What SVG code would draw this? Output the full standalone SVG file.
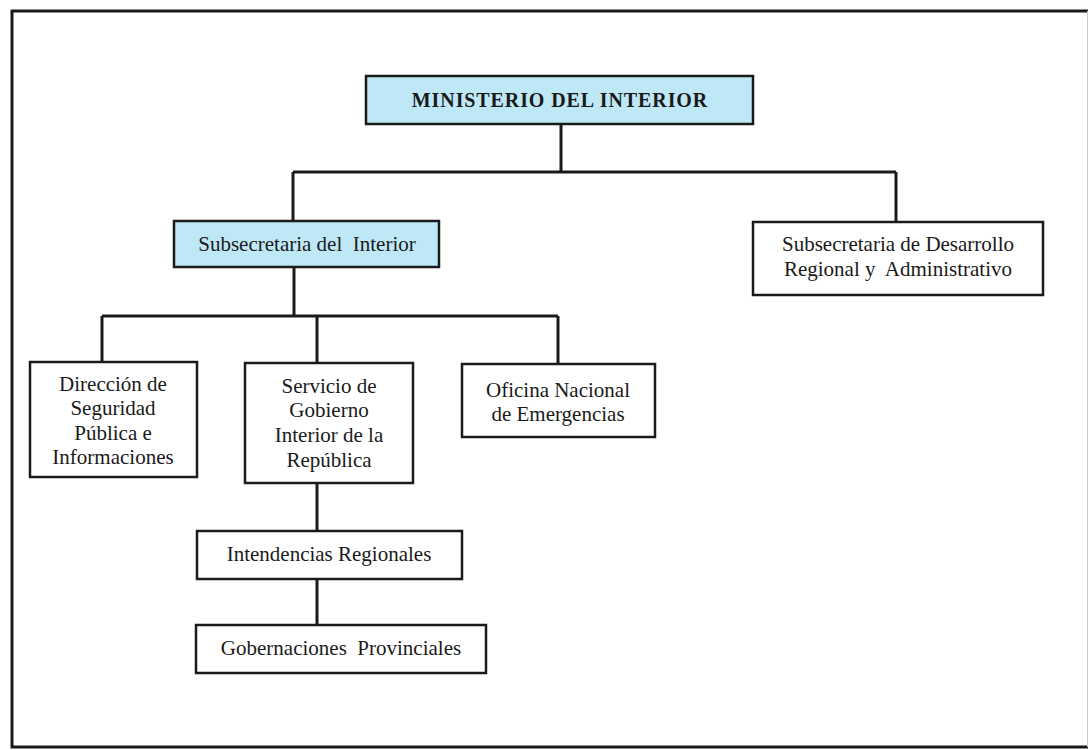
<svg xmlns="http://www.w3.org/2000/svg" width="1089" height="750" viewBox="0 0 1089 750">
<style>
.box{fill:#ffffff;stroke:#1a1a1a;stroke-width:2.5}
.blue{fill:#bfe8f6}
.t{font-family:"Liberation Serif","Times New Roman",serif;font-size:21px;fill:#1a1a1a;text-anchor:middle;white-space:pre}
.b{font-weight:bold;font-size:20px;letter-spacing:0.9px}
.c{fill:none;stroke:#1a1a1a;stroke-width:3}
</style>
<rect width="1089" height="750" fill="#ffffff"/>
<g id="frame">
<path d="M1088,11 L12,11 L12,747 L1088,747" fill="none" stroke="#1a1a1a" stroke-width="3"/>
<line x1="1087.5" y1="11" x2="1087.5" y2="747" stroke="#c8c8c8" stroke-width="1"/>
</g>
<g id="connectors">
<path class="c" d="M561,124 V172 M293,172 H896 M293,172 V221 M896,172 V222"/>
<path class="c" d="M294,267 V316 M102,316 H558 M102,316 V362 M317,316 V363 M558,316 V364"/>
<path class="c" d="M317,483 V531 M317,579 V625"/>
</g>
<g id="ministerio">
<rect class="box blue" x="366" y="76" width="387" height="48"/>
<text class="t b" x="560" y="107">MINISTERIO DEL INTERIOR</text>
</g>
<g id="subsecretaria-interior">
<rect class="box blue" x="174" y="221" width="265" height="46"/>
<text class="t" x="307" y="251">Subsecretaria del  Interior</text>
</g>
<g id="subsecretaria-desarrollo">
<rect class="box" x="753" y="222" width="290" height="73"/>
<text class="t" x="898" y="251">Subsecretaria de Desarrollo</text>
<text class="t" x="898" y="276">Regional y  Administrativo</text>
</g>
<g id="direccion">
<rect class="box" x="30" y="362" width="167" height="115"/>
<text class="t" x="113" y="391">Dirección de</text>
<text class="t" x="113" y="415">Seguridad</text>
<text class="t" x="113" y="440">Pública e</text>
<text class="t" x="113" y="464">Informaciones</text>
</g>
<g id="servicio">
<rect class="box" x="245" y="363" width="168" height="120"/>
<text class="t" x="329" y="393">Servicio de</text>
<text class="t" x="329" y="417">Gobierno</text>
<text class="t" x="329" y="442">Interior de la</text>
<text class="t" x="329" y="467">República</text>
</g>
<g id="oficina">
<rect class="box" x="462" y="364" width="193" height="73"/>
<text class="t" x="558" y="397">Oficina Nacional</text>
<text class="t" x="558" y="421">de Emergencias</text>
</g>
<g id="intendencias">
<rect class="box" x="197" y="531" width="265" height="48"/>
<text class="t" x="329" y="561">Intendencias Regionales</text>
</g>
<g id="gobernaciones">
<rect class="box" x="196" y="625" width="290" height="48"/>
<text class="t" x="341" y="655">Gobernaciones  Provinciales</text>
</g>
</svg>
